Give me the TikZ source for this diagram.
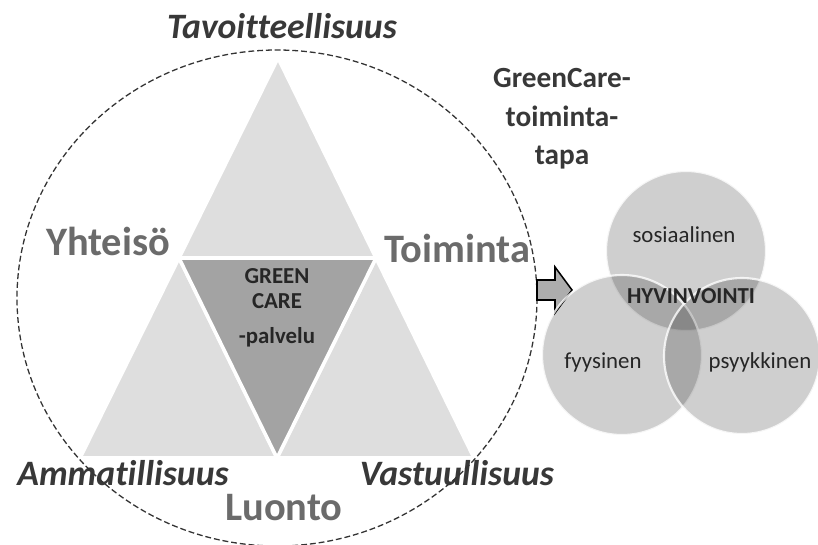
\documentclass[tikz,border=0pt]{standalone}
\usepackage{fontspec}
\setmainfont{Carlito}[Ligatures=NoCommon]
\usetikzlibrary{positioning}

\definecolor{trilight}{gray}{0.87}
\definecolor{tridark}{gray}{0.64}
\definecolor{cornergray}{gray}{0.42}
\definecolor{sidegray}{gray}{0.22}
\definecolor{arrowgray}{gray}{0.68}

\begin{document}
\begin{tikzpicture}[x=0.3mm, y=-0.3mm,
    tri/.style={fill=trilight, draw=white, line width=3pt, line join=round},
    corner/.style={anchor=base, text=cornergray, font=\fontsize{34.5}{40}\selectfont\bfseries},
    side/.style={anchor=base, text=sidegray, font=\fontsize{30.5}{36}\selectfont\bfseries\itshape},
    venn/.style={fill=black, fill opacity=0.19, draw=white, draw opacity=0.8, line width=1.8pt},
    vlabel/.style={anchor=base, text=black!85, font=\fontsize{19.5}{23}\selectfont}]
  \useasboundingbox (0,0) rectangle (818,545);

  % triangle of four parts
  \draw[tri] (278,58) -- (376,258) -- (179,258) -- cycle;
  \draw[tri] (179,258) -- (277,458) -- (80,458) -- cycle;
  \draw[tri] (376,258) -- (474,458) -- (277,458) -- cycle;
  \draw[tri, fill=tridark] (179,258) -- (376,258) -- (277,458) -- cycle;

  \node[anchor=north, inner sep=0pt, align=center, text=black!85,
        font=\fontsize{19.5}{21.3}\selectfont\bfseries] (gcare) at (277,268) {GREEN\\CARE\\[9pt]-palvelu};

  \node[side] (tavo) at (282,39) {Tavoitteellisuus};
  \node[corner] (yhte) at (108,255) {Yhteisö};
  \node[corner] (toim) at (457,262) {Toiminta};
  \node[side] (amma) at (123,485) {Ammatillisuus};
  \node[side] (vast) at (457,485) {Vastuullisuus};
  \node[corner] (luon) at (284,520) {Luonto};

  \draw[dash pattern=on 5pt off 2.5pt, line width=1.1pt, black!80] (277,298) ellipse [x radius=260, y radius=248];

  \node[inner sep=0pt, align=center, text=sidegray,
        font=\fontsize{25}{33}\selectfont\bfseries] (tapa) at (562,119) {GreenCare-\\toiminta-\\tapa};

  \draw[fill=arrowgray, line width=1.3pt] (537,280) -- (555,280) -- (555,267) -- (572,290)
        -- (555,313) -- (555,300) -- (537,300) -- cycle;

  % hyvinvointi circles
  \draw[venn] (686,251) circle [radius=80];
  \draw[venn] (622,355) circle [radius=80];
  \draw[venn] (742,356) circle [radius=78];

  \node[vlabel] (sosi) at (684,242) {sosiaalinen};
  \node[vlabel, font=\fontsize{19.5}{23}\selectfont\bfseries] (hyvi) at (691,303) {HYVINVOINTI};
  \node[vlabel] (fyys) at (603,368) {fyysinen};
  \node[vlabel] (psyy) at (760,368) {psyykkinen};
\end{tikzpicture}
\end{document}
